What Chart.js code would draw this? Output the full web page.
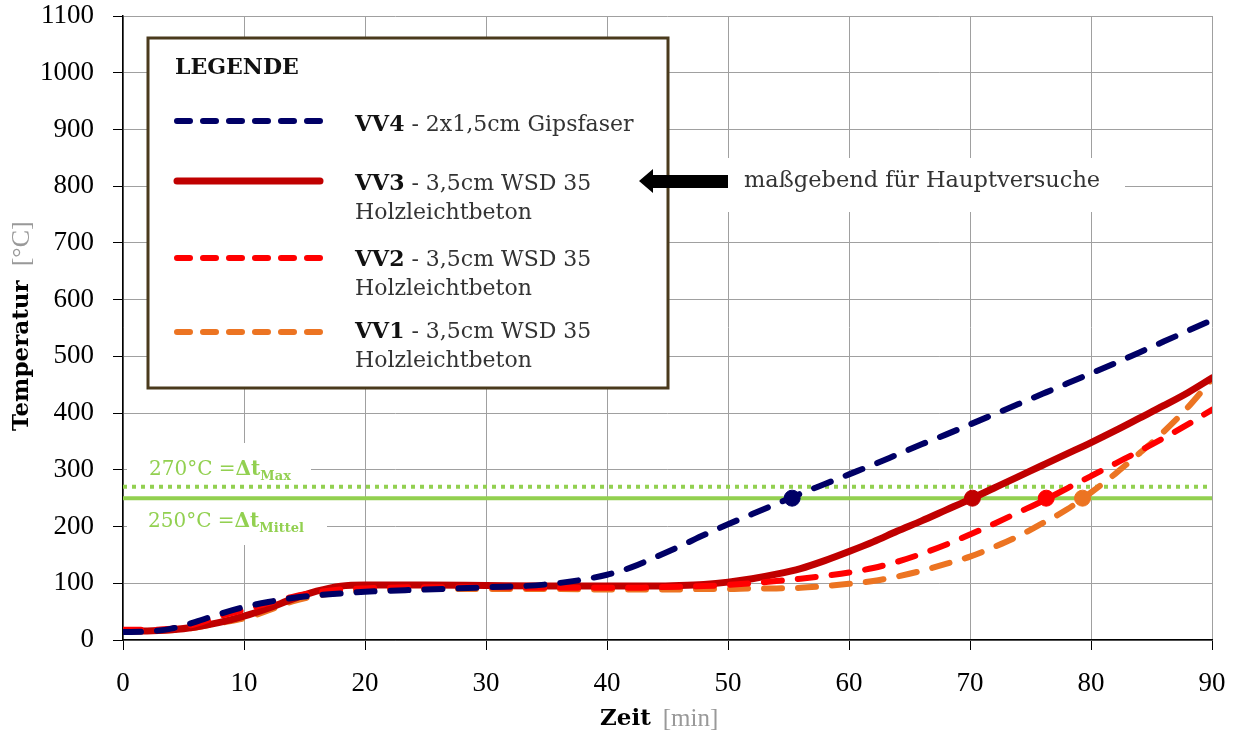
<!DOCTYPE html>
<html>
<head>
<meta charset="utf-8">
<script src="https://cdn.jsdelivr.net/npm/chart.js@4.4.1/dist/chart.umd.min.js"></script>
<style>
  html, body { margin: 0; padding: 0; background: #fff; }
  canvas { display: block; }
</style>
</head>
<body>
<canvas id="tempChart" width="1240" height="734"></canvas>
<script>
// Zeit [min]
const zeit = [0, 2, 4, 6, 8, 10, 12, 14, 16, 18, 20, 25, 30, 35, 40, 42, 44, 46, 48, 50,
              52, 54, 56, 58, 60, 62, 64, 66, 68, 70, 72, 74, 76, 78, 80, 82, 84, 86, 88, 90];

// Temperatur [°C]
const tempVV4 = [14, 15, 20, 32, 46, 58, 67, 74, 79, 82, 85, 89, 93, 98, 115, 128, 146, 165, 185, 204,
                 222, 240, 258, 275, 292, 309, 327, 345, 362, 380, 398, 416, 434, 452, 470, 488, 507, 526, 545, 564];
const tempVV3 = [16, 16, 18, 23, 31, 42, 56, 72, 86, 95, 97, 97, 96, 95, 95, 95, 95, 96, 98, 102,
                 108, 116, 126, 140, 156, 173, 192, 210, 229, 248, 268, 288, 308, 328, 348, 369, 391, 413, 436, 462];
const tempVV2 = [18, 18, 20, 28, 42, 53, 65, 76, 84, 89, 91, 93, 93, 92, 92, 92, 93, 94, 95, 97,
                 100, 104, 108, 113, 119, 127, 138, 152, 168, 186, 205, 225, 245, 267, 289, 311, 333, 356, 380, 406];
const tempVV1 = [16, 16, 17, 22, 30, 38, 52, 68, 78, 84, 88, 90, 90, 90, 89, 89, 89, 89, 90, 90,
                 91, 91, 92, 95, 99, 104, 112, 122, 134, 147, 164, 183, 206, 230, 260, 293, 329, 367, 410, 460];

// Grenzwerte und Zeitpunkte des Erreichens
const deltaMittel = 250;
const deltaMax = 270;
const serien = ['VV4', 'VV3', 'VV2', 'VV1'];
const zeitBeiMittel = [55.3, 70.2, 76.3, 79.3];

const xTicks = [0, 10, 20, 30, 40, 50, 60, 70, 80, 90];
const yTicks = [0, 100, 200, 300, 400, 500, 600, 700, 800, 900, 1000, 1100];

const farben = { VV4: '#000066', VV3: '#c00000', VV2: '#ff0000', VV1: '#ec7422' };
const gruen = '#92d050';
const tickFont = { family: "'Liberation Serif', serif", size: 27 };
const slab = "'DejaVu Serif', serif";

const pts = (ys) => zeit.map((x, i) => ({ x: x, y: ys[i] }));

const kurve = (name, ys, dash, width) => ({
    label: name,
    data: pts(ys),
    borderColor: farben[name],
    borderWidth: width,
    borderDash: dash,
    borderCapStyle: 'round',
    borderJoinStyle: 'round',
    pointRadius: 0,
    fill: false,
    cubicInterpolationMode: 'monotone'
});

const markerSets = serien.map((name, i) => ({
    type: 'scatter',
    label: name + ' 250°C',
    data: [{ x: zeitBeiMittel[i], y: deltaMittel }],
    backgroundColor: farben[name],
    borderColor: farben[name],
    pointRadius: 8,
    pointHoverRadius: 8
}));

const grenzlinie = (y, dash) => ({
    label: 'grenze' + y,
    data: [{ x: 0, y: y }, { x: 90, y: y }],
    borderColor: gruen,
    borderWidth: 4,
    borderDash: dash,
    pointRadius: 0,
    fill: false
});

const drawLegendLine = (c, y, color, width, dash) => {
    c.save();
    c.strokeStyle = color;
    c.lineWidth = width;
    c.lineCap = 'round';
    c.setLineDash(dash);
    c.beginPath();
    c.moveTo(177, y);
    c.lineTo(320, y);
    c.stroke();
    c.restore();
};

const drawMixed = (c, x, y, parts) => {
    parts.forEach(p => {
        c.font = p.font;
        c.fillStyle = p.color;
        c.fillText(p.text, x, y + (p.dy || 0));
        x += c.measureText(p.text).width + (p.gap || 0);
    });
};

const overlay = {
    id: 'overlay',
    beforeDatasetsDraw(chart) {
        const c = chart.ctx;
        c.save();
        c.fillStyle = '#fff';
        c.fillRect(127, 443, 184, 50);
        c.fillRect(127, 493, 200, 52);
        c.fillRect(668, 158, 457, 54);
        c.restore();
    },
    afterDatasetsDraw(chart) {
        const c = chart.ctx;
        c.save();
        // Legendenkasten
        c.fillStyle = '#fff';
        c.fillRect(148, 38, 520, 350);
        c.strokeStyle = '#4a3a1c';
        c.lineWidth = 3;
        c.strokeRect(148, 38, 520, 350);

        c.textBaseline = 'middle';
        c.textAlign = 'left';
        c.fillStyle = '#111';
        c.font = 'bold 22px ' + slab;
        c.fillText('LEGENDE', 175, 68);

        drawLegendLine(c, 121, farben.VV4, 6, [13, 13]);
        drawLegendLine(c, 181, farben.VV3, 7, []);
        drawLegendLine(c, 258, farben.VV2, 6, [13, 13]);
        drawLegendLine(c, 332, farben.VV1, 6, [13, 13]);

        const reg = '22px ' + slab;
        const bold = 'bold 22px ' + slab;
        drawMixed(c, 355, 125, [{ text: 'VV4', font: bold, color: '#111' }, { text: ' - 2x1,5cm Gipsfaser', font: reg, color: '#333' }]);
        drawMixed(c, 355, 184, [{ text: 'VV3', font: bold, color: '#111' }, { text: ' - 3,5cm WSD 35', font: reg, color: '#333' }]);
        drawMixed(c, 355, 213, [{ text: 'Holzleichtbeton', font: reg, color: '#333' }]);
        drawMixed(c, 355, 260, [{ text: 'VV2', font: bold, color: '#111' }, { text: ' - 3,5cm WSD 35', font: reg, color: '#333' }]);
        drawMixed(c, 355, 289, [{ text: 'Holzleichtbeton', font: reg, color: '#333' }]);
        drawMixed(c, 355, 332, [{ text: 'VV1', font: bold, color: '#111' }, { text: ' - 3,5cm WSD 35', font: reg, color: '#333' }]);
        drawMixed(c, 355, 361, [{ text: 'Holzleichtbeton', font: reg, color: '#333' }]);

        // Pfeil und Hinweis
        c.fillStyle = '#000';
        c.beginPath();
        c.moveTo(639, 181);
        c.lineTo(653, 169);
        c.lineTo(653, 175);
        c.lineTo(728, 175);
        c.lineTo(728, 188);
        c.lineTo(653, 188);
        c.lineTo(653, 193);
        c.closePath();
        c.fill();
        drawMixed(c, 744, 181, [{ text: 'maßgebend für Hauptversuche', font: '22.5px ' + slab, color: '#333' }]);

        // Grenzwert-Beschriftungen
        const gReg = '20px ' + slab;
        const gBold = 'bold 20px ' + slab;
        const gSub = 'bold 13px ' + slab;
        drawMixed(c, 149, 470, [
            { text: '270°C =', font: gReg, color: gruen },
            { text: 'Δt', font: gBold, color: gruen },
            { text: 'Max', font: gSub, color: gruen, dy: 7 }
        ]);
        drawMixed(c, 148, 522, [
            { text: '250°C =', font: gReg, color: gruen },
            { text: 'Δt', font: gBold, color: gruen },
            { text: 'Mittel', font: gSub, color: gruen, dy: 7 }
        ]);
        c.restore();
    },
    afterDraw(chart) {
        const c = chart.ctx;
        c.save();
        c.textBaseline = 'middle';
        // x-Achsentitel
        drawMixed(c, 600, 719, [
            { text: 'Zeit', font: 'bold 23px ' + slab, color: '#000', gap: 12 },
            { text: '[min]', font: '25px ' + tickFont.family, color: '#999' }
        ]);
        // y-Achsentitel
        c.translate(22, 431);
        c.rotate(-Math.PI / 2);
        drawMixed(c, 0, 0, [
            { text: 'Temperatur', font: 'bold 23px ' + slab, color: '#000', gap: 14 },
            { text: '[°C]', font: '26px ' + tickFont.family, color: '#999' }
        ]);
        c.restore();
    }
};

const ctx = document.getElementById('tempChart').getContext('2d');

const tempChart = new Chart(ctx, {
    type: 'line',
    data: {
        datasets: [
            ...markerSets,
            kurve('VV4', tempVV4, [18, 16], 6),
            kurve('VV2', tempVV2, [18, 16], 6),
            kurve('VV3', tempVV3, [], 7),
            kurve('VV1', tempVV1, [18, 16], 6),
            grenzlinie(deltaMittel, []),
            grenzlinie(deltaMax, [4, 5])
        ]
    },
    options: {
        responsive: false,
        animation: false,
        events: [],
        layout: { padding: { top: 0, right: 28, left: 0, bottom: 0 } },
        plugins: {
            legend: { display: false },
            tooltip: { enabled: false }
        },
        scales: {
            x: {
                type: 'linear',
                min: 0,
                max: 90,
                afterBuildTicks: (scale) => { scale.ticks = xTicks.map(v => ({ value: v })); },
                afterFit: (scale) => {
                    scale.height = 94;
                    scale.paddingLeft = 0;
                    scale.paddingRight = 0;
                },
                ticks: { font: tickFont, color: '#000', padding: 18, maxRotation: 0, callback: (v) => String(v) },
                grid: { color: '#a0a0a0', lineWidth: 1, tickColor: '#000', tickLength: 10 },
                border: { color: '#000', width: 1.5 }
            },
            y: {
                min: 0,
                max: 1100,
                afterBuildTicks: (scale) => { scale.ticks = yTicks.map(v => ({ value: v })); },
                afterFit: (scale) => {
                    scale.width = 123;
                    // nur halbe Beschriftungshöhe oben freilassen
                    scale.paddingTop = 16;
                    scale.paddingBottom = 16;
                },
                ticks: { font: tickFont, color: '#000', padding: 19, callback: (v) => String(v) },
                grid: { color: '#a0a0a0', lineWidth: 1, tickColor: '#000', tickLength: 10 },
                border: { color: '#000', width: 1.5 }
            }
        }
    },
    plugins: [overlay]
});
</script>
</body>
</html>
